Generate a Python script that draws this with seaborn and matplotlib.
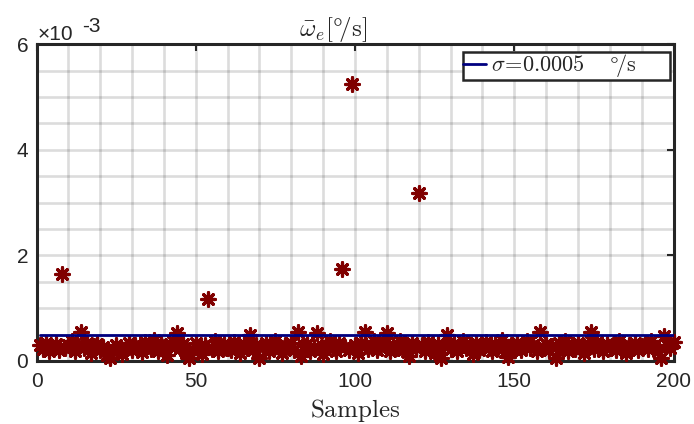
import numpy as np
import matplotlib
matplotlib.use("Agg")
import matplotlib.pyplot as plt
from matplotlib.ticker import MultipleLocator, FixedLocator
import seaborn as sns

# Per-sample error magnitudes (in units of 1e-3 deg/s)
samples = np.arange(1, 201)
error_e3 = [
    0.30, 0.22, 0.35, 0.18, 0.27, 0.33, 0.20, 1.65, 0.25, 0.31,
    0.38, 0.19, 0.28, 0.55, 0.24, 0.35, 0.15, 0.29, 0.33, 0.21,
    0.26, 0.12, 0.06, 0.18, 0.30, 0.22, 0.14, 0.27, 0.34, 0.20,
    0.31, 0.25, 0.17, 0.36, 0.28, 0.22, 0.40, 0.19, 0.32, 0.26,
    0.12, 0.30, 0.38, 0.53, 0.24, 0.33, 0.16, 0.05, 0.21, 0.35,
    0.27, 0.14, 0.31, 1.18, 0.22, 0.37, 0.18, 0.29, 0.33, 0.24,
    0.20, 0.36, 0.27, 0.15, 0.32, 0.25, 0.49, 0.21, 0.30, 0.05,
    0.26, 0.34, 0.19, 0.29, 0.38, 0.23, 0.16, 0.31, 0.27, 0.35,
    0.20, 0.55, 0.10, 0.28, 0.33, 0.18, 0.26, 0.53, 0.22, 0.14,
    0.31, 0.37, 0.24, 0.19, 0.34, 1.75, 0.27, 0.21, 5.25, 0.30,
    0.16, 0.35, 0.55, 0.23, 0.29, 0.38, 0.20, 0.26, 0.33, 0.53,
    0.18, 0.31, 0.25, 0.37, 0.21, 0.28, 0.09, 0.34, 0.24, 3.18,
    0.30, 0.19, 0.36, 0.26, 0.15, 0.32, 0.06, 0.28, 0.50, 0.22,
    0.33, 0.18, 0.27, 0.38, 0.24, 0.30, 0.14, 0.35, 0.21, 0.29,
    0.36, 0.25, 0.19, 0.32, 0.27, 0.40, 0.17, 0.07, 0.30, 0.23,
    0.34, 0.20, 0.28, 0.37, 0.24, 0.31, 0.18, 0.55, 0.26, 0.33,
    0.21, 0.29, 0.06, 0.35, 0.25, 0.38, 0.19, 0.30, 0.23, 0.34,
    0.27, 0.16, 0.32, 0.55, 0.22, 0.36, 0.28, 0.19, 0.33, 0.25,
    0.30, 0.21, 0.37, 0.26, 0.15, 0.31, 0.24, 0.35, 0.20, 0.29,
    0.33, 0.22, 0.38, 0.27, 0.18, 0.06, 0.47, 0.31, 0.25, 0.36,
]
error = np.array(error_e3) * 1e-3
sigma = 0.0005

x_ticks = [0, 50, 100, 150, 200]
y_ticks = [0, 0.002, 0.004, 0.006]
y_tick_labels = ["0", "2", "4", "6"]

sns.set_style("white")
plt.rcParams["font.family"] = ["Liberation Sans", "DejaVu Sans"]
plt.rcParams["mathtext.fontset"] = "cm"

W, H = 694, 424
fig = plt.figure(figsize=(W / 100, H / 100), dpi=100)
left, right, top, bottom = 36.5, 673.5, 44.3, 361.0
aw, ah = right - left, bottom - top
ax = fig.add_axes([left / W, 1 - bottom / H, aw / W, ah / H])

dark_red = (0.5, 0.0, 0.0)
navy = (0.0, 0.0, 0.5)
ink = "#262626"

sns.scatterplot(x=samples, y=error, marker=(8, 2, 0), color=dark_red,
                s=95, linewidth=2.3, ax=ax, zorder=3, legend=False,
                clip_on=False)
sns.lineplot(x=samples, y=np.full(len(samples), sigma), color=navy,
             linewidth=2.0, ax=ax, zorder=4,
             label=r"$\sigma\!=\!0.0005\quad\ \degree\!/\mathrm{s}$")

ax.set_xlim(0, 200)
ax.set_ylim(0, 0.006)
ax.xaxis.set_major_locator(FixedLocator(x_ticks))
ax.yaxis.set_major_locator(FixedLocator(y_ticks))
ax.set_yticklabels(y_tick_labels)
ax.xaxis.set_minor_locator(MultipleLocator(10))
ax.yaxis.set_minor_locator(MultipleLocator(0.0005))

grid_kw = dict(color=ink, alpha=0.16, linewidth=1.9)
ax.grid(True, which="minor", **grid_kw)
ax.grid(True, which="major", **grid_kw)
ax.set_axisbelow(True)

ax.tick_params(which="major", direction="in", length=5, width=1.5,
               top=True, right=True, labelsize=15, colors=ink)
ax.tick_params(axis="x", which="major", pad=8)
ax.tick_params(axis="y", which="major", pad=6)
ax.tick_params(which="minor", length=0)
for sp in ax.spines.values():
    sp.set_visible(True)
    sp.set_color(ink)
    sp.set_linewidth(2.2)

ax.set_xlabel(r"$\mathrm{Samples}$", fontsize=18, labelpad=4, color=ink)
ax.set_ylabel("")
fig.text(333 / W, 1 - 30 / H, r"$\bar{\omega}_e[\degree\!/\mathrm{s}]$",
         fontsize=18, ha="center", va="center", color=ink)

# exponent marker for the y axis
ax.text(0.002, 1 + 4.3 / ah, "×10", transform=ax.transAxes,
        fontsize=15, ha="left", va="baseline", color=ink)
ax.text((82 - left) / aw, 1 + 12 / ah, "-3",
        transform=ax.transAxes, fontsize=15, ha="left", va="baseline",
        color=ink)

# legend box stretched across a fixed width in the upper right corner
lx0 = (463 - left) / aw
lw = (670 - 463) / aw
ltop = 1 - (52 - top) / ah
leg = ax.legend(loc="upper left", bbox_to_anchor=(lx0, 0.5, lw, ltop - 0.5),
                mode="expand", fontsize=16, frameon=True, fancybox=False,
                borderaxespad=0, handlelength=1.0, handletextpad=0.25,
                borderpad=0.02)
leg.get_frame().set_edgecolor(ink)
leg.get_frame().set_linewidth(1.8)
leg.get_frame().set_facecolor("white")
leg.get_frame().set_alpha(1)

fig.savefig("out.png", dpi=100, facecolor="white")
